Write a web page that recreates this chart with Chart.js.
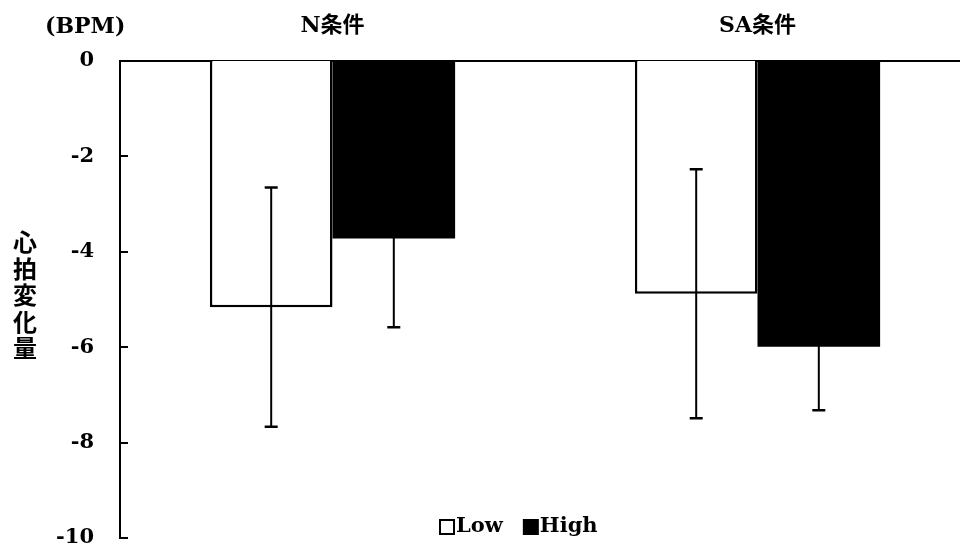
<!DOCTYPE html>
<html>
<head>
<meta charset="utf-8">
<script src="https://cdn.jsdelivr.net/npm/chart.js@4"></script>
<style>
  html, body { margin: 0; padding: 0; background: #fff; overflow: hidden; }
  #wrap { width: 960px; height: 553px; overflow: hidden; }
  #inner { width: 970px; height: 553px; }
</style>
</head>
<body>
<div id="wrap"><div id="inner"><canvas id="chart" width="970" height="553"></canvas></div></div>
<script>
// Values
const categories = ['N条件', 'SA条件'];
const seriesNames = ['Low', 'High'];
const lowMeans = [-5.16, -4.88];
const highMeans = [-3.72, -5.99];
const lowErrors = [2.51, 2.61];
const highErrors = [1.86, 1.33];
const yMin = -10;
const yMax = 0;
const yStep = 2;
const unitLabel = '(BPM)';
const yTitle = '心拍変化量';

const serif = "'DejaVu Serif', 'Noto Sans CJK JP', serif";
const gothic = "'Noto Sans CJK JP', sans-serif";

// small ticks pointing into the plot from the y axis
const inwardTicks = {
  id: 'inwardTicks',
  afterDraw(chart) {
    const { ctx, chartArea, scales } = chart;
    ctx.save();
    ctx.strokeStyle = '#000';
    ctx.lineWidth = 2;
    scales.y.ticks.forEach(t => {
      const y = Math.round(scales.y.getPixelForValue(t.value));
      ctx.beginPath();
      ctx.moveTo(chartArea.left, y);
      ctx.lineTo(chartArea.left + 8, y);
      ctx.stroke();
    });
    ctx.restore();
  }
};

// error bars (mean ± error) centred on each bar
const errorBars = {
  id: 'errorBars',
  afterDatasetsDraw(chart) {
    const { ctx, scales } = chart;
    ctx.save();
    ctx.strokeStyle = '#000';
    chart.data.datasets.forEach((ds, di) => {
      const meta = chart.getDatasetMeta(di);
      meta.data.forEach((bar, i) => {
        const m = ds.data[i], e = ds.errors[i];
        const yTop = scales.y.getPixelForValue(m + e);
        const yBot = scales.y.getPixelForValue(m - e);
        ctx.lineWidth = 2;
        ctx.beginPath();
        ctx.moveTo(bar.x, yTop);
        ctx.lineTo(bar.x, yBot);
        ctx.stroke();
        ctx.lineWidth = 2.5;
        ctx.beginPath();
        ctx.moveTo(bar.x - 6.5, yTop); ctx.lineTo(bar.x + 6.5, yTop);
        ctx.moveTo(bar.x - 6.5, yBot); ctx.lineTo(bar.x + 6.5, yBot);
        ctx.stroke();
      });
    });
    ctx.restore();
  }
};

// unit label, vertical axis title and the legend inside the plot
const annotations = {
  id: 'annotations',
  afterDraw(chart) {
    const { ctx, chartArea } = chart;
    ctx.save();
    ctx.fillStyle = '#000';
    ctx.textBaseline = 'middle';

    ctx.font = 'bold 22px ' + serif;
    ctx.textAlign = 'left';
    ctx.fillText(unitLabel, 45, 27);

    ctx.font = 'bold 24px ' + gothic;
    ctx.textAlign = 'center';
    [...yTitle].forEach((ch, i) => ctx.fillText(ch, 25, 242 + i * 26.5));

    // legend
    ctx.font = 'bold 21px ' + serif;
    ctx.textAlign = 'left';
    const ly = chartArea.bottom - 11;
    let x = chartArea.left + 319;
    chart.data.datasets.forEach((ds, i) => {
      if (ds.backgroundColor === '#000') {
        ctx.fillRect(x, ly - 8, 16, 16);
      } else {
        ctx.lineWidth = 2;
        ctx.strokeRect(x + 1, ly - 7, 14, 14);
      }
      ctx.fillText(ds.label, x + 17, ly);
      x += 17 + ctx.measureText(ds.label).width + 20;
    });
    ctx.restore();
  }
};

new Chart(document.getElementById('chart'), {
  type: 'bar',
  data: {
    labels: categories,
    datasets: [
      {
        label: seriesNames[0],
        data: lowMeans,
        errors: lowErrors,
        backgroundColor: '#fff',
        borderColor: '#000',
        borderWidth: 2.5
      },
      {
        label: seriesNames[1],
        data: highMeans,
        errors: highErrors,
        backgroundColor: '#000',
        borderColor: '#000',
        borderWidth: 0
      }
    ]
  },
  options: {
    responsive: false,
    animation: false,
    layout: { padding: { left: 0, right: 0, top: 0, bottom: 15 } },
    datasets: { bar: { categoryPercentage: 0.577, barPercentage: 1 } },
    plugins: { legend: { display: false }, tooltip: { enabled: false } },
    scales: {
      x: {
        position: 'top',
        afterFit(scale) { scale.height = 61; scale.paddingLeft = 0; scale.paddingRight = 0; },
        grid: { display: false, drawTicks: false },
        border: { color: '#000', width: 2 },
        ticks: { color: '#000', padding: 22, font: { family: serif, size: 22, weight: 'bold' } }
      },
      y: {
        min: yMin,
        max: yMax,
        afterFit(scale) { scale.width = 120; scale.paddingTop = 0; scale.paddingBottom = 0; },
        grid: { display: false, drawTicks: false },
        border: { color: '#000', width: 2 },
        ticks: {
          stepSize: yStep,
          color: '#000',
          padding: 26,
          font: { family: serif, size: 21, weight: 'bold' }
        }
      }
    }
  },
  plugins: [inwardTicks, errorBars, annotations]
});
</script>
</body>
</html>
